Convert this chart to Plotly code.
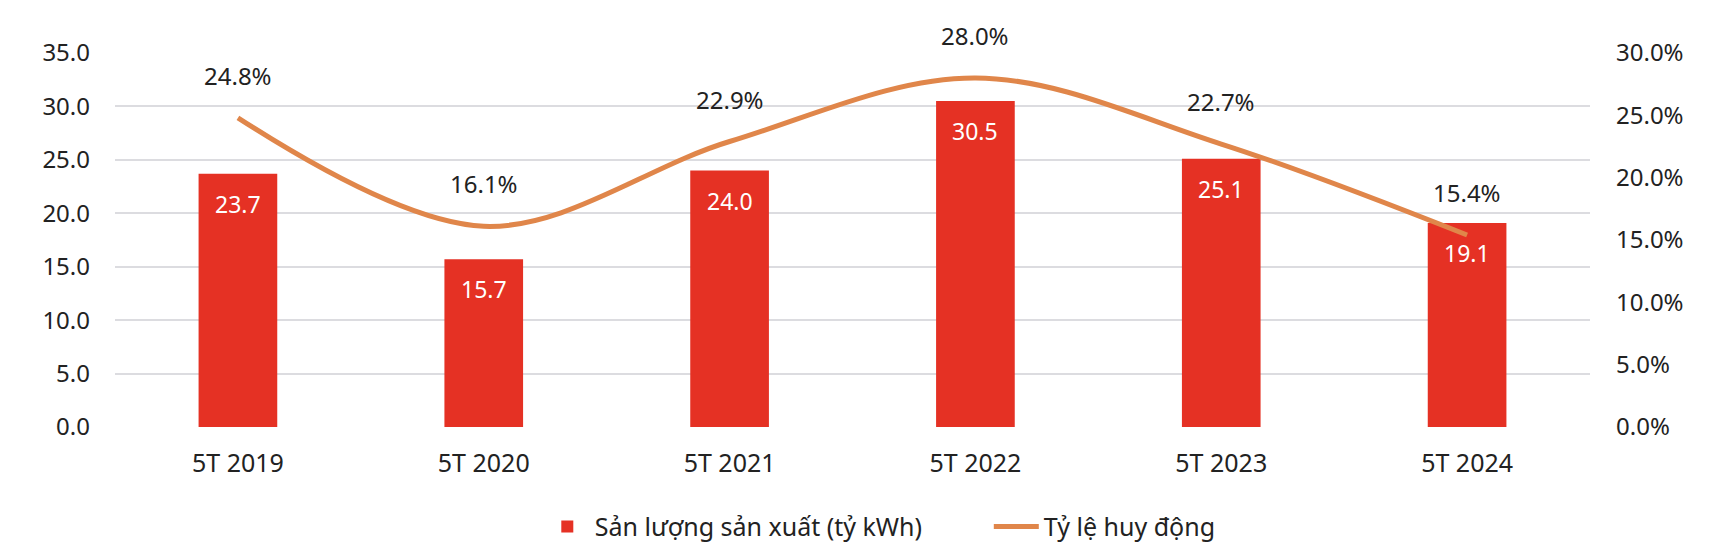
import plotly.graph_objects as go

categories = ["5T 2019", "5T 2020", "5T 2021", "5T 2022", "5T 2023", "5T 2024"]
production = [23.7, 15.7, 24.0, 30.5, 25.1, 19.1]
mobilization = [24.8, 16.1, 22.9, 28.0, 22.7, 15.4]
left_ticks = [0, 5, 10, 15, 20, 25, 30, 35]
right_ticks = [0, 5, 10, 15, 20, 25, 30]

FONT = "Noto Sans"
BAR_COLOR = "#E53124"
LINE_COLOR = "#E0864A"
TXT = "#222222"

fig = go.Figure()
fig.add_trace(go.Bar(
    x=categories, y=production, name="Sản lượng sản xuất (tỷ kWh)",
    marker=dict(color=BAR_COLOR, line=dict(width=0)), width=0.32,
))
fig.add_trace(go.Scatter(
    x=categories, y=mobilization, name="Tỷ lệ huy động", yaxis="y2",
    mode="lines", line=dict(color=LINE_COLOR, width=5, shape="spline", smoothing=1.0),
))

annotations = []
for c, v in zip(categories, production):
    annotations.append(dict(x=c, y=v, xref="x", yref="y", text=f"{v:.1f}",
                            showarrow=False, yanchor="top", yshift=-12,
                            font=dict(family=FONT, size=23, color="white")))
for c, v in zip(categories, mobilization):
    annotations.append(dict(x=c, y=v, xref="x", yref="y2", text=f"{v:.1f}%",
                            showarrow=False, yanchor="bottom", yshift=24,
                            font=dict(family=FONT, size=24, color=TXT)))

fig.update_layout(
    width=1720, height=560,
    margin=dict(l=107, r=138, t=45, b=141),
    paper_bgcolor="white", plot_bgcolor="white",
    font=dict(family=FONT, size=24, color=TXT),
    showlegend=True,
    legend=dict(orientation="h", x=0.288, xanchor="left", y=-0.267, yanchor="middle",
                font=dict(family=FONT, size=25, color=TXT), itemwidth=45,
                entrywidth=389, entrywidthmode="pixels",
                traceorder="normal"),
    xaxis=dict(showgrid=False, showline=False, ticks="", tickfont=dict(size=25),
               ticklabelstandoff=19, automargin=False),
    yaxis=dict(range=[0, 35], tickvals=left_ticks,
               ticktext=[f"{t:.1f}" for t in left_ticks],
               showgrid=True, gridcolor="#DCDCE0", gridwidth=1.5, zeroline=False,
               showline=False, ticks="", ticklabelstandoff=24, automargin=False,
               tickfont=dict(size=24)),
    yaxis2=dict(range=[0, 30], tickvals=right_ticks,
                ticktext=[f"{t:.1f}%" for t in right_ticks],
                overlaying="y", side="right", showgrid=False, zeroline=False,
                showline=False, ticks="", ticklabelstandoff=25, automargin=False,
                tickfont=dict(size=24)),
    annotations=annotations,
    bargap=0.68,
)

fig.write_html("out.html")
